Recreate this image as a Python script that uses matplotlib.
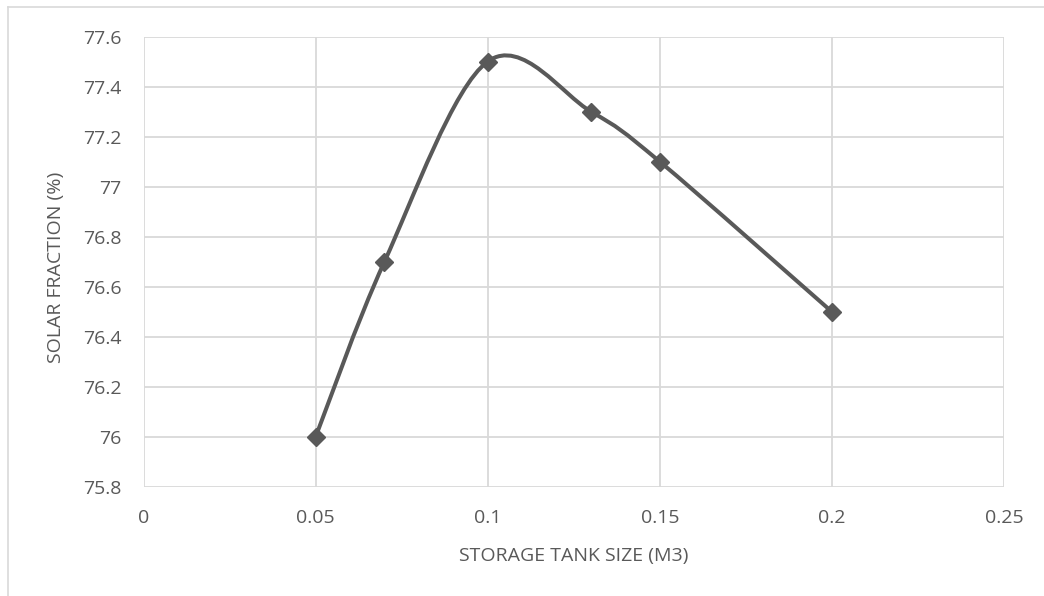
import numpy as np
import matplotlib
matplotlib.use("Agg")
import matplotlib.pyplot as plt
from matplotlib.path import Path
from matplotlib.patches import PathPatch
from matplotlib.lines import Line2D

tank_size = [0.05, 0.07, 0.10, 0.13, 0.15, 0.20]
solar_fraction = [76.0, 76.7, 77.5, 77.3, 77.1, 76.5]
x_ticks = [0, 0.05, 0.1, 0.15, 0.2, 0.25]
x_tick_labels = ["0", "0.05", "0.1", "0.15", "0.2", "0.25"]
y_ticks = [75.8, 76.0, 76.2, 76.4, 76.6, 76.8, 77.0, 77.2, 77.4, 77.6]
y_tick_labels = ["75.8", "76", "76.2", "76.4", "76.6", "76.8", "77", "77.2", "77.4", "77.6"]
x_label = "STORAGE TANK SIZE (M3)"
y_label = "SOLAR FRACTION (%)"

plt.rcParams['font.family'] = ['Open Sans', 'DejaVu Sans']
txt = '#595959'
grid = '#d9d9d9'
line_c = '#595959'
fs = 14

W, H = 1044, 596
fig = plt.figure(figsize=(W/100, H/100), dpi=100)
ax = fig.add_axes([143.5/W, 1-487/H, (1004-143.5)/W, (487-36.5)/H])
ax.set_xlim(0, 0.25)
ax.set_ylim(75.8, 77.6)
ax.set_xticks(x_ticks)
ax.set_xticklabels(x_tick_labels)
ax.set_yticks(y_ticks)
ax.set_yticklabels(y_tick_labels)
ax.grid(True, color=grid, linewidth=1.3)
ax.set_axisbelow(True)
for s in ax.spines.values():
    s.set_visible(False)
ax.tick_params(length=0, labelsize=fs, colors=txt)
ax.tick_params(axis='y', pad=16)
ax.tick_params(axis='x', pad=16)
fig.text(574/W, 1-556/H, x_label, fontsize=fs, color=txt, ha='center', va='center')
fig.text(56/W, 1-267/H, y_label, fontsize=fs, color=txt, ha='center', va='center', rotation=90)

# Smoothed curve (Catmull-Rom Bezier through data points, in display space)
fig.canvas.draw()
pts = ax.transData.transform(np.column_stack([tank_size, solar_fraction]))
n = len(pts)
verts = [pts[0]]
codes = [Path.MOVETO]
for i in range(n-1):
    p0 = pts[i-1] if i > 0 else pts[i]
    p1 = pts[i]
    p2 = pts[i+1]
    p3 = pts[i+2] if i+2 < n else pts[i+1]
    c1 = p1 + (p2 - p0) / 6.0
    c2 = p2 - (p3 - p1) / 6.0
    verts += [c1, c2, p2]
    codes += [Path.CURVE4]*3
dverts = ax.transData.inverted().transform(np.array(verts))
path = Path(dverts, codes)
ax.add_patch(PathPatch(path, facecolor='none', edgecolor=line_c, linewidth=2.9,
                       capstyle='round', joinstyle='round', zorder=3))
ax.plot(tank_size, solar_fraction, linestyle='none', marker='D', markersize=9.5,
        color=line_c, zorder=4)

# outer border lines (chart frame partially visible)
fig.add_artist(Line2D([8/W, 8/W], [0, 1-7/H], transform=fig.transFigure, color=grid, linewidth=1.2))
fig.add_artist(Line2D([8/W, 1], [1-7/H, 1-7/H], transform=fig.transFigure, color=grid, linewidth=1.2))

fig.savefig("out.png", dpi=100)
